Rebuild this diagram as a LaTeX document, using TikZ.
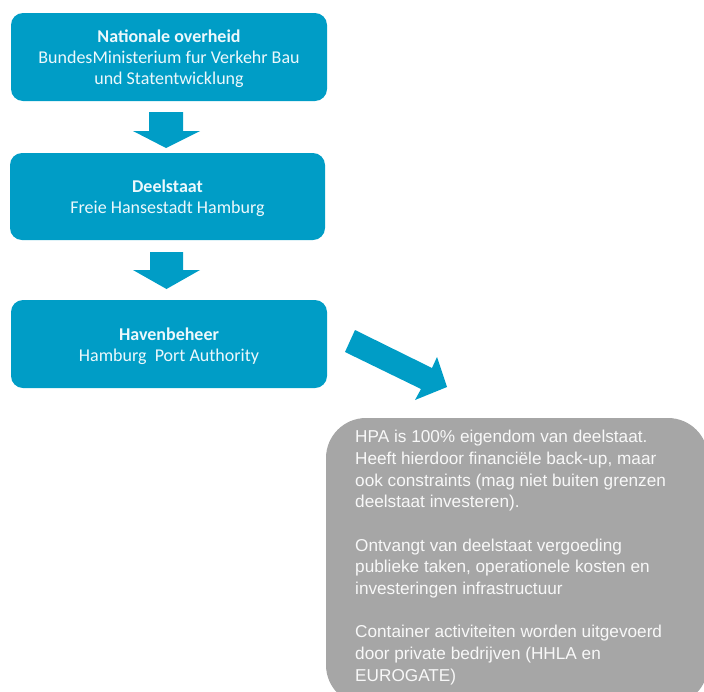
\documentclass[tikz,border=0pt]{standalone}
\usepackage{fontspec}
\setmainfont{Carlito}
\newfontfamily\grayfont{Liberation Sans}
\definecolor{hpablue}{RGB}{0,157,198}
\definecolor{hpagray}{RGB}{166,166,166}
\definecolor{bluetext}{RGB}{236,248,252}
\definecolor{graytext}{RGB}{248,248,248}
\begin{document}
\begin{tikzpicture}[x=1pt,y=-1pt,
  bluebox/.style={fill=hpablue, rounded corners=12pt, minimum width=316pt, minimum height=88pt,
    inner sep=0pt, align=center, text=bluetext, font=\fontsize{18}{21}\selectfont},
  blockarrow/.style={fill=hpablue, draw=none},
  notebox/.style={fill=hpagray, rounded corners=40pt, draw=none}]
\useasboundingbox (0,0) rectangle (704,691);
\fill[hpablue, rounded corners=12pt] (11,13) rectangle (327,101);
\fill[hpablue, rounded corners=12pt] (10,153) rectangle (325,240);
\fill[hpablue, rounded corners=12pt] (11,300) rectangle (327,388);
\node[bluebox, fill=none] (nat) at (169,59) {\textbf{Nationale overheid}\\BundesMinisterium fur Verkehr Bau\\und Statentwicklung};
\node[bluebox, fill=none] (deel) at (167.5,198) {\textbf{Deelstaat}\\Freie Hansestadt Hamburg};
\node[bluebox, fill=none] (hav) at (169,346.5) {\textbf{Havenbeheer}\\Hamburg\ \ Port Authority};
% block arrows
\fill[blockarrow] (149,112) -- (183,112) -- (183,131) -- (200,131) -- (166,148) -- (133,131) -- (149,131) -- cycle;
\fill[blockarrow] (150,252) -- (183,252) -- (183,270) -- (200,270) -- (166.5,289) -- (133,270) -- (150,270) -- cycle;
\fill[blockarrow] (355,330) -- (432,368) -- (437,357) -- (447,387) -- (415,400) -- (421,389) -- (345,352) -- cycle;
% note box
\begin{scope}
\clip (0,0) rectangle (704,691);
\fill[notebox] (326,418) rectangle (708,705);
\end{scope}
\node[anchor=north west, inner sep=0pt, align=left, text=graytext,
  font=\grayfont\fontsize{17.2}{21.7}\selectfont] (note) at (355,430)
{HPA is 100\% eigendom van deelstaat.\\
Heeft hierdoor financiële back-up, maar\\
ook constraints (mag niet buiten grenzen\\
deelstaat investeren).\\[21.7pt]
Ontvangt van deelstaat vergoeding\\
publieke taken, operationele kosten en\\
investeringen infrastructuur\\[21.7pt]
Container activiteiten worden uitgevoerd\\
door private bedrijven (HHLA en\\
EUROGATE)};
\end{tikzpicture}
\end{document}
